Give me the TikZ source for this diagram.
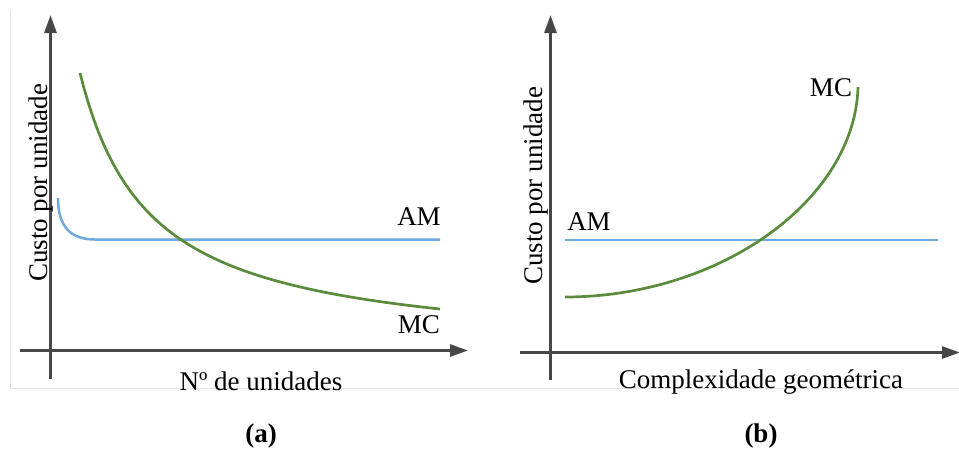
\documentclass[tikz,border=0pt]{standalone}
\usepackage{fontspec}
\setmainfont{Liberation Serif}
\usetikzlibrary{arrows.meta}
\definecolor{axisgray}{HTML}{474747}
\definecolor{amblue}{HTML}{6FA8DC}
\definecolor{mcgreen}{HTML}{5B8C3E}
\definecolor{framegray}{HTML}{E4E4E4}
\begin{document}
\begin{tikzpicture}[x=1pt,y=-1pt,
  axis/.style={draw=axisgray, line width=2.8pt, -{Triangle[length=18pt,width=12pt]}},
  amcurve/.style={draw=amblue, line width=2.5pt},
  mccurve/.style={draw=mcgreen, line width=2.7pt},
  framestyle/.style={draw=framegray, line width=0.8pt},
  lbl/.style={font=\fontsize{27}{31}\selectfont, inner sep=0pt},
  panelcap/.style={font=\bfseries\fontsize{27}{31}\selectfont, inner sep=0pt}]
\useasboundingbox (0,0) rectangle (959,450);

% light frame around the plots
\coordinate (fa) at (10,10);
\coordinate (fb) at (10,388);
\coordinate (fc) at (959,388);
\draw[framestyle] (fa) -- (fb) -- (fc);

% ---------- (a) cost versus number of units ----------
\coordinate (ayb) at (50.5,379);
\coordinate (ayt) at (50.5,15);
\coordinate (axl) at (20,350.5);
\coordinate (axr) at (468,350.5);
\draw[axis] (ayb) -- (ayt);
\draw[axis] (axl) -- (axr);

\coordinate (am0) at (58,198);
\coordinate (am1) at (95,239.5);
\coordinate (am2) at (440,239.5);
\draw[amcurve] (am0) .. controls (58,226) and (70,239.5) .. (am1) -- (am2);

% decaying unit cost: y = 354.7 - 19635/(x - 10.3)
\draw[mccurve] plot[domain=80:440, samples=80] (\x, {354.7 - 100*(196.35/(\x - 10.3))});

\node[lbl, anchor=base] (amA) at (419,225) {AM};
\node[lbl, anchor=base] (mcA) at (419,333) {MC};
\node[lbl, anchor=base, rotate=90] (yA) at (47,183) {Custo por unidade};
\node[lbl, anchor=base] (xA) at (261,390) {Nº de unidades};
\node[panelcap] (capA) at (261,436) {(a)};

% ---------- (b) cost versus geometric complexity ----------
\coordinate (byb) at (550.5,380);
\coordinate (byt) at (550.5,15);
\coordinate (bxl) at (520,352.5);
\coordinate (bxr) at (960,352.5);
\draw[axis] (byb) -- (byt);
\draw[axis] (bxl) -- (bxr);

\coordinate (bm0) at (565,240);
\coordinate (bm1) at (938,240);
\draw[amcurve] (bm0) -- (bm1);

\coordinate (bc0) at (565,297);
\coordinate (bc1) at (858,87);
\draw[mccurve] (bc0) .. controls (720,297) and (855,200) .. (bc1);

\node[lbl, anchor=base] (amB) at (589,230) {AM};
\node[lbl, anchor=base] (mcB) at (831,96) {MC};
\node[lbl, anchor=base, rotate=90] (yB) at (542,186) {Custo por unidade};
\node[lbl, anchor=base] (xB) at (761,388) {Complexidade geométrica};
\node[panelcap] (capB) at (761,436) {(b)};
\end{tikzpicture}
\end{document}
